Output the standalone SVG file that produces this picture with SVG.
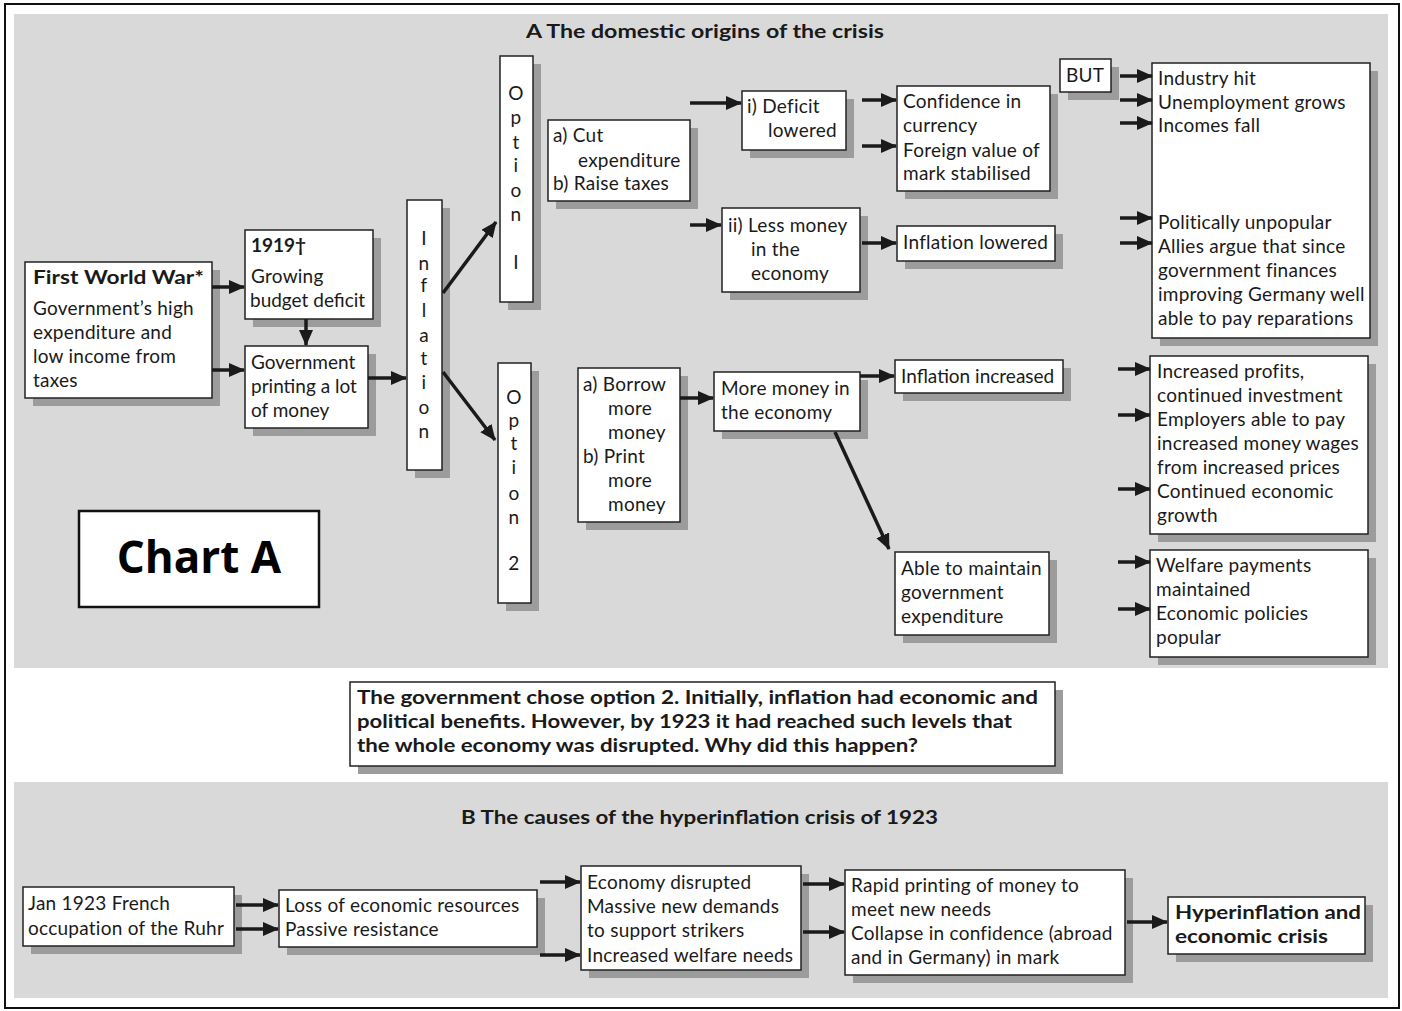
<svg xmlns="http://www.w3.org/2000/svg" width="1402" height="1011" viewBox="0 0 1402 1011">
<defs>
<marker id="ah" markerWidth="16" markerHeight="14" refX="15" refY="7" orient="auto" markerUnits="userSpaceOnUse"><path d="M0,0 L16,7 L0,14 z" fill="#1a1a1a"/></marker>
<style>
.bg{fill:#d9d9d9}
.sh{fill:#9c9c9c}
.box{fill:#fff;stroke:#222;stroke-width:1.5}
.t{font-family:Lato,"Open Sans","Liberation Sans",sans-serif;font-size:19px;fill:#1a1a1a;letter-spacing:0.25px}
.b{font-weight:bold;letter-spacing:0}
.m{text-anchor:middle}
.n{letter-spacing:0}
.c line{stroke:#1a1a1a;stroke-width:3.5;marker-end:url(#ah)}
</style>
</defs>
<rect x="0" y="0" width="1402" height="1011" fill="#fff"/>
<rect x="5" y="4" width="1394" height="1004" fill="none" stroke="#111" stroke-width="2"/>
<rect class="bg" x="14" y="14" width="1374" height="654"/>
<rect class="bg" x="14" y="782" width="1374" height="216"/>

<text class="t b" x="526" y="38" textLength="358" lengthAdjust="spacingAndGlyphs">A The domestic origins of the crisis</text>
<text class="t b" x="461" y="824" textLength="477" lengthAdjust="spacingAndGlyphs">B The causes of the hyperinflation crisis of 1923</text>

<g id="ww1"><rect class="sh" x="33" y="270" width="187" height="136"/><rect class="box" x="25" y="262" width="187" height="136"/>
<text class="t" x="33"><tspan class="b" y="284" textLength="171" lengthAdjust="spacingAndGlyphs">First World War*</tspan><tspan x="33" y="315">Government’s high</tspan><tspan x="33" y="339">expenditure and</tspan><tspan x="33" y="363">low income from</tspan><tspan x="33" y="387">taxes</tspan></text></g>

<g id="y1919"><rect class="sh" x="253" y="238" width="128" height="89"/><rect class="box" x="245" y="230" width="128" height="89"/>
<text class="t" x="251"><tspan class="b" y="252">1919†</tspan><tspan x="251" y="283">Growing</tspan><tspan class="n" x="250" y="307">budget deficit</tspan></text></g>

<g id="printing"><rect class="sh" x="253" y="354" width="123" height="82"/><rect class="box" x="245" y="346" width="123" height="82"/>
<text class="t n" x="251"><tspan y="369">Government</tspan><tspan x="251" y="393">printing a lot</tspan><tspan x="251" y="417">of money</tspan></text></g>

<g id="inflation"><rect class="sh" x="415" y="208" width="35" height="270"/><rect class="box" x="407" y="200" width="35" height="270"/>
<text class="t m" x="424"><tspan x="424" y="245">I</tspan><tspan x="424" y="270">n</tspan><tspan x="424" y="292">f</tspan><tspan x="424" y="317">l</tspan><tspan x="424" y="342">a</tspan><tspan x="424" y="365">t</tspan><tspan x="424" y="389">i</tspan><tspan x="424" y="414">o</tspan><tspan x="424" y="438">n</tspan></text></g>

<g id="option1"><rect class="sh" x="508" y="64" width="33" height="246"/><rect class="box" x="500" y="56" width="33" height="246"/>
<text class="t m"><tspan x="516" y="100">O</tspan><tspan x="516" y="124">p</tspan><tspan x="516" y="149">t</tspan><tspan x="516" y="172">i</tspan><tspan x="516" y="197">o</tspan><tspan x="516" y="221">n</tspan><tspan x="516" y="269">I</tspan></text></g>

<g id="option2"><rect class="sh" x="506" y="371" width="33" height="240"/><rect class="box" x="498" y="363" width="33" height="240"/>
<text class="t m"><tspan x="514" y="404">O</tspan><tspan x="514" y="427">p</tspan><tspan x="514" y="450">t</tspan><tspan x="514" y="474">i</tspan><tspan x="514" y="500">o</tspan><tspan x="514" y="524">n</tspan><tspan x="514" y="570">2</tspan></text></g>

<g id="cut"><rect class="sh" x="556" y="128" width="142" height="81"/><rect class="box" x="548" y="120" width="142" height="81"/>
<text class="t"><tspan x="553" y="142">a) Cut</tspan><tspan x="578" y="167">expenditure</tspan><tspan x="553" y="190">b) Raise taxes</tspan></text></g>

<g id="deficit"><rect class="sh" x="750" y="99" width="104" height="59"/><rect class="box" x="742" y="91" width="104" height="59"/>
<text class="t"><tspan x="747" y="113">i) Deficit</tspan><tspan x="768" y="137">lowered</tspan></text></g>

<g id="lessmoney"><rect class="sh" x="730" y="216" width="138" height="84"/><rect class="box" x="722" y="208" width="138" height="84"/>
<text class="t"><tspan x="728" y="232">ii) Less money</tspan><tspan x="751" y="256">in the</tspan><tspan x="751" y="280">economy</tspan></text></g>

<g id="confidence"><rect class="sh" x="905" y="94" width="153" height="105"/><rect class="box" x="897" y="86" width="153" height="105"/>
<text class="t"><tspan x="903" y="108">Confidence in</tspan><tspan x="903" y="132">currency</tspan><tspan x="903" y="157">Foreign value of</tspan><tspan x="903" y="180">mark stabilised</tspan></text></g>

<g id="inflowered"><rect class="sh" x="905" y="234" width="158" height="35"/><rect class="box" x="897" y="226" width="158" height="35"/>
<text class="t" x="903" y="249">Inflation lowered</text></g>

<g id="but"><rect class="sh" x="1068" y="67" width="51" height="33"/><rect class="box" x="1060" y="59" width="51" height="33"/>
<text class="t m" x="1085" y="82">BUT</text></g>

<g id="consequences1"><rect class="sh" x="1160" y="71" width="218" height="275"/><rect class="box" x="1152" y="63" width="218" height="275"/>
<text class="t" x="1158"><tspan x="1158" y="85">Industry hit</tspan><tspan x="1158" y="109">Unemployment grows</tspan><tspan x="1158" y="132">Incomes fall</tspan><tspan x="1158" y="229">Politically unpopular</tspan><tspan x="1158" y="253">Allies argue that since</tspan><tspan x="1158" y="277">government finances</tspan><tspan x="1158" y="301">improving Germany well</tspan><tspan x="1158" y="325">able to pay reparations</tspan></text></g>

<g id="borrow"><rect class="sh" x="586" y="376" width="102" height="154"/><rect class="box" x="578" y="368" width="102" height="154"/>
<text class="t"><tspan x="583" y="391">a) Borrow</tspan><tspan x="608" y="415">more</tspan><tspan x="608" y="439">money</tspan><tspan x="583" y="463">b) Print</tspan><tspan x="608" y="487">more</tspan><tspan x="608" y="511">money</tspan></text></g>

<g id="moremoney"><rect class="sh" x="722" y="380" width="146" height="59"/><rect class="box" x="714" y="372" width="146" height="59"/>
<text class="t"><tspan x="721" y="395">More money in</tspan><tspan x="721" y="419">the economy</tspan></text></g>

<g id="infincreased"><rect class="sh" x="903" y="368" width="168" height="33"/><rect class="box" x="895" y="360" width="168" height="33"/>
<text class="t n" x="901" y="383">Inflation increased</text></g>

<g id="maintain"><rect class="sh" x="903" y="560" width="154" height="83"/><rect class="box" x="895" y="552" width="154" height="83"/>
<text class="t"><tspan x="901" y="575">Able to maintain</tspan><tspan x="901" y="599">government</tspan><tspan x="901" y="623">expenditure</tspan></text></g>

<g id="consequences2"><rect class="sh" x="1158" y="364" width="218" height="178"/><rect class="box" x="1150" y="356" width="218" height="178"/>
<text class="t"><tspan x="1157" y="378">Increased profits,</tspan><tspan x="1157" y="402">continued investment</tspan><tspan x="1157" y="426">Employers able to pay</tspan><tspan x="1157" y="450">increased money wages</tspan><tspan x="1157" y="474">from increased prices</tspan><tspan x="1157" y="498">Continued economic</tspan><tspan x="1157" y="522">growth</tspan></text></g>

<g id="welfare"><rect class="sh" x="1158" y="558" width="218" height="107"/><rect class="box" x="1150" y="550" width="218" height="107"/>
<text class="t"><tspan x="1156" y="572">Welfare payments</tspan><tspan x="1156" y="596">maintained</tspan><tspan x="1156" y="620">Economic policies</tspan><tspan x="1156" y="644">popular</tspan></text></g>

<g id="chartA"><rect x="79" y="511" width="240" height="96" fill="#fff" stroke="#111" stroke-width="2.5"/>
<text x="199" y="573" text-anchor="middle" style="font-family:'Open Sans','Liberation Sans',sans-serif;font-size:44px;font-weight:bold;fill:#000">Chart A</text></g>

<g id="question"><rect class="sh" x="358" y="690" width="705" height="84"/><rect class="box" x="350" y="682" width="705" height="84"/>
<text class="t b"><tspan x="357" y="704" textLength="681" lengthAdjust="spacingAndGlyphs">The government chose option 2. Initially, inflation had economic and</tspan><tspan x="357" y="728" textLength="655" lengthAdjust="spacingAndGlyphs">political benefits. However, by 1923 it had reached such levels that</tspan><tspan x="357" y="752" textLength="561" lengthAdjust="spacingAndGlyphs">the whole economy was disrupted. Why did this happen?</tspan></text></g>

<g id="ruhr"><rect class="sh" x="31" y="895" width="211" height="59"/><rect class="box" x="23" y="887" width="211" height="59"/>
<text class="t"><tspan x="28" y="910">Jan 1923 French</tspan><tspan x="28" y="935">occupation of the Ruhr</tspan></text></g>

<g id="loss"><rect class="sh" x="287" y="898" width="258" height="57"/><rect class="box" x="279" y="890" width="258" height="57"/>
<text class="t"><tspan x="285" y="912">Loss of economic resources</tspan><tspan x="285" y="936">Passive resistance</tspan></text></g>

<g id="disrupted"><rect class="sh" x="589" y="874" width="220" height="104"/><rect class="box" x="581" y="866" width="220" height="104"/>
<text class="t"><tspan x="587" y="889">Economy disrupted</tspan><tspan x="587" y="913">Massive new demands</tspan><tspan x="587" y="937">to support strikers</tspan><tspan x="587" y="962">Increased welfare needs</tspan></text></g>

<g id="rapid"><rect class="sh" x="853" y="878" width="280" height="105"/><rect class="box" x="845" y="870" width="280" height="105"/>
<text class="t"><tspan x="851" y="892">Rapid printing of money to</tspan><tspan x="851" y="916">meet new needs</tspan><tspan x="851" y="940">Collapse in confidence (abroad</tspan><tspan x="851" y="964">and in Germany) in mark</tspan></text></g>

<g id="hyper"><rect class="sh" x="1176" y="905" width="197" height="57"/><rect class="box" x="1168" y="897" width="197" height="57"/>
<text class="t b"><tspan x="1175" y="919" textLength="186" lengthAdjust="spacingAndGlyphs">Hyperinflation and</tspan><tspan x="1175" y="943" textLength="153" lengthAdjust="spacingAndGlyphs">economic crisis</tspan></text></g>

<g id="connectors" class="c">
<line x1="212" y1="287" x2="244" y2="287"/>
<line x1="212" y1="370" x2="244" y2="370"/>
<line x1="306" y1="319" x2="306" y2="345"/>
<line x1="368" y1="378" x2="406" y2="378"/>
<line x1="443" y1="293" x2="496" y2="222"/>
<line x1="443" y1="372" x2="495" y2="440"/>
<line x1="690" y1="103" x2="741" y2="103"/>
<line x1="690" y1="225" x2="721" y2="225"/>
<line x1="862" y1="100" x2="896" y2="100"/>
<line x1="862" y1="146" x2="896" y2="146"/>
<line x1="862" y1="243" x2="896" y2="243"/>
<line x1="1120" y1="76" x2="1152" y2="76"/>
<line x1="1120" y1="100" x2="1152" y2="100"/>
<line x1="1120" y1="123" x2="1152" y2="123"/>
<line x1="1120" y1="218" x2="1152" y2="218"/>
<line x1="1120" y1="243" x2="1152" y2="243"/>
<line x1="680" y1="398" x2="713" y2="398"/>
<line x1="860" y1="376" x2="894" y2="376"/>
<line x1="835" y1="432" x2="889" y2="549"/>
<line x1="1118" y1="369" x2="1150" y2="369"/>
<line x1="1118" y1="415" x2="1150" y2="415"/>
<line x1="1118" y1="489" x2="1150" y2="489"/>
<line x1="1118" y1="562" x2="1150" y2="562"/>
<line x1="1118" y1="609" x2="1150" y2="609"/>
<line x1="236" y1="905" x2="278" y2="905"/>
<line x1="236" y1="929" x2="278" y2="929"/>
<line x1="540" y1="882" x2="580" y2="882"/>
<line x1="540" y1="955" x2="580" y2="955"/>
<line x1="803" y1="884" x2="844" y2="884"/>
<line x1="803" y1="932" x2="844" y2="932"/>
<line x1="1127" y1="922" x2="1167" y2="922"/>
</g>
</svg>
